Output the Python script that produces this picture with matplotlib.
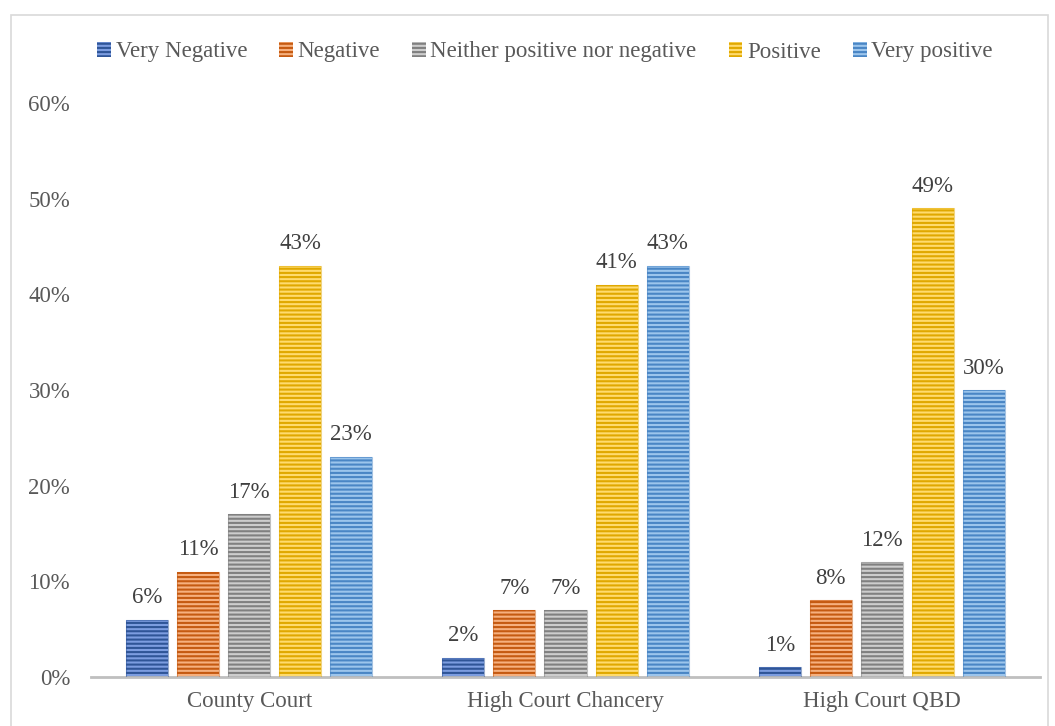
import matplotlib
matplotlib.use("Agg")
import matplotlib.pyplot as plt
import numpy as np
from matplotlib.patches import Rectangle

categories = ["County Court", "High Court Chancery", "High Court QBD"]
series_names = ["Very Negative", "Negative", "Neither positive nor negative", "Positive", "Very positive"]
values = {
    "Very Negative": [0.06, 0.02, 0.01],
    "Negative": [0.11, 0.07, 0.08],
    "Neither positive nor negative": [0.17, 0.07, 0.12],
    "Positive": [0.43, 0.41, 0.49],
    "Very positive": [0.23, 0.43, 0.30],
}
yticks = [0, 0.1, 0.2, 0.3, 0.4, 0.5, 0.6]

face_colors = ["#7c9de0", "#f6b07e", "#cdcdcd", "#ffdb6e", "#9cc5ec"]
hatch_colors = ["#2f5597", "#c55a11", "#808080", "#e0a800", "#4a86c5"]

plt.rcParams['font.family'] = ['Liberation Serif', 'DejaVu Serif']
plt.rcParams['hatch.linewidth'] = 1.5

fig = plt.figure(figsize=(10.55, 7.26), dpi=100)
ax = fig.add_axes([91/1055, 1-677/726, (1040-91)/1055, (677-103)/726])

# outer border
fig.patches.append(Rectangle((11/1055, -0.01), (1048-11)/1055, 1-15/726+0.01,
                             transform=fig.transFigure, fill=False,
                             edgecolor="#d9d9d9", linewidth=1.2))

x = np.arange(len(categories))
step = 51/316
width = 42/316
n = len(series_names)
for i, name in enumerate(series_names):
    pos = x + (i - (n-1)/2) * step
    vals = values[name]
    ax.bar(pos, vals, width, color=face_colors[i], edgecolor=hatch_colors[i],
           hatch='----', linewidth=0, label=name, zorder=2)
    ax.bar(pos, vals, width, fill=False, edgecolor=hatch_colors[i], linewidth=0.8, alpha=0.5, zorder=3)
    for p, v in zip(pos, vals):
        ax.text(p, v + 0.012, f"{round(v*100)}%", ha='center', va='bottom',
                fontsize=16.5, color="#404040")

ax.set_xlim(-0.5, 2.5)
ax.set_ylim(0, 0.6)
ax.set_yticks(yticks)
ax.set_yticklabels([f"{int(round(t*100))}%" for t in yticks], fontsize=16.5, color="#595959")
ax.set_xticks(x)
ax.set_xticklabels(categories, fontsize=16.5, color="#595959")
ax.tick_params(axis='both', length=0)
ax.tick_params(axis='y', pad=15)
ax.tick_params(axis='x', pad=10)
for s in ['top', 'right', 'left']:
    ax.spines[s].set_visible(False)
ax.spines['bottom'].set_color("#bfbfbf")
ax.spines['bottom'].set_linewidth(2)

handles, labels = ax.get_legend_handles_labels()
leg = fig.legend(handles[:n], labels[:n], loc='center', bbox_to_anchor=(545/1055, 1-52/726),
                 ncol=5, frameon=False, fontsize=16.5, handlelength=0.6, handleheight=0.6,
                 handletextpad=0.2, columnspacing=1.4, labelcolor="#595959")

fig.savefig("out.png", dpi=100)
